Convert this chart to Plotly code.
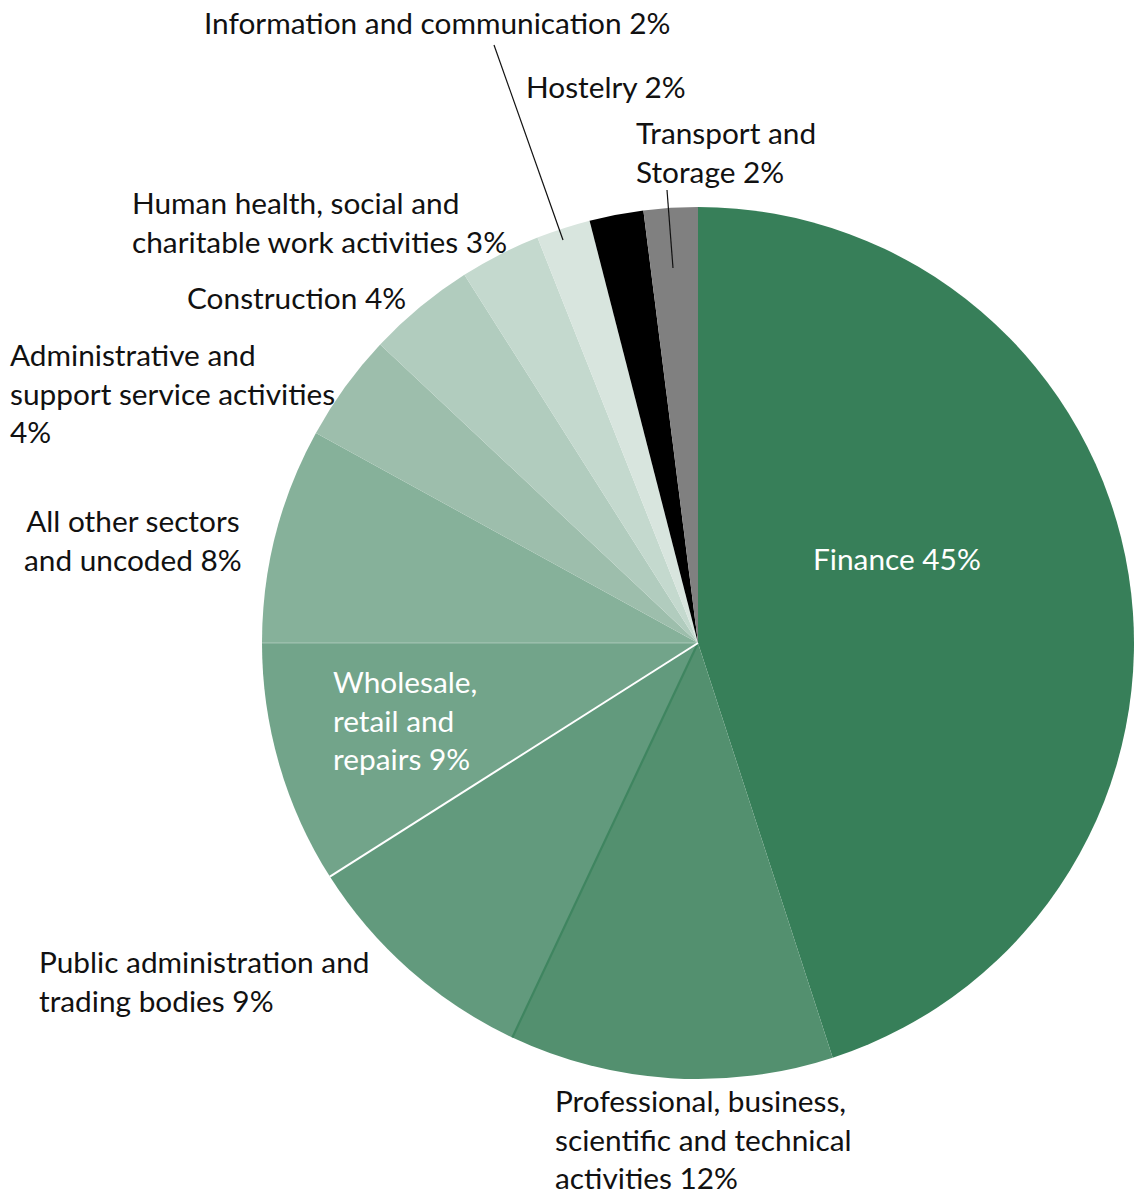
import math
import plotly.graph_objects as go

W, H = 1134, 1194

# Sector shares, clockwise from 12 o'clock
sectors = [
    "Finance",
    "Professional, business, scientific and technical activities",
    "Public administration and trading bodies",
    "Wholesale, retail and repairs",
    "All other sectors and uncoded",
    "Administrative and support service activities",
    "Construction",
    "Human health, social and charitable work activities",
    "Information and communication",
    "Hostelry",
    "Transport and Storage",
]
shares = [45, 12, 9, 9, 8, 4, 4, 3, 2, 2, 2]
colors = [
    "#377f59", "#53906f", "#629a7d", "#72a48a", "#86b19a", "#9dbeac",
    "#b1ccbe", "#c4d9ce", "#d8e5de", "#000000", "#808080",
]

# Label text, split into display lines
label_lines = {
    "Finance": ["Finance 45%"],
    "Professional, business, scientific and technical activities":
        ["Professional, business,", "scientific and technical", "activities 12%"],
    "Public administration and trading bodies":
        ["Public administration and", "trading bodies 9%"],
    "Wholesale, retail and repairs": ["Wholesale,", "retail and", "repairs 9%"],
    "All other sectors and uncoded": ["All other sectors", "and uncoded 8%"],
    "Administrative and support service activities":
        ["Administrative and", "support service activities", "4%"],
    "Construction": ["Construction 4%"],
    "Human health, social and charitable work activities":
        ["Human health, social and", "charitable work activities 3%"],
    "Information and communication": ["Information and communication 2%"],
    "Hostelry": ["Hostelry 2%"],
    "Transport and Storage": ["Transport and", "Storage 2%"],
}


def px(x):
    return x / W


def py(y):
    return 1 - y / H


# Pie placement (pixels): centre and radius
cx, cy, r = 698, 643, 436

fig = go.Figure(
    go.Pie(
        labels=sectors,
        values=shares,
        sort=False,
        direction="clockwise",
        rotation=0,
        textinfo="none",
        hoverinfo="label+percent",
        marker=dict(colors=colors, line=dict(width=0)),
        domain=dict(x=[px(cx - r), min(1.0, px(cx + r))],
                    y=[py(cy + r), py(cy - r)]),
        showlegend=False,
    )
)

# Slice-boundary rules: drawn along the edge that ends a given slice
total = sum(shares)


def edge_after(name):
    """Clockwise angle (radians from 12 o'clock) at the end of a slice."""
    idx = sectors.index(name)
    return 2 * math.pi * sum(shares[: idx + 1]) / total


edge_rules = [
    ("Professional, business, scientific and technical activities", "#3f8560", 2.2),
    ("Public administration and trading bodies", "#ffffff", 2.0),
    ("Wholesale, retail and repairs", "rgba(255,255,255,0.35)", 1.2),
]
for name, col, w in edge_rules:
    a = edge_after(name)
    fig.add_shape(type="line", xref="paper", yref="paper",
                  x0=px(cx), y0=py(cy),
                  x1=px(cx + r * math.sin(a)), y1=py(cy - r * math.cos(a)),
                  line=dict(color=col, width=w), layer="above")

FONT = "Lato"
FS = 29.8

# (sector, anchor x px, centre y px, xanchor, text colour)
label_pos = [
    ("Finance", 811, 558, "left", "white"),
    ("Professional, business, scientific and technical activities", 553, 1139, "left", "#111"),
    ("Public administration and trading bodies", 37, 981, "left", "#111"),
    ("Wholesale, retail and repairs", 331, 720, "left", "white"),
    ("All other sectors and uncoded", 133, 540, "center", "#111"),
    ("Administrative and support service activities", 8, 393, "left", "#111"),
    ("Construction", 185, 297.5, "left", "#111"),
    ("Human health, social and charitable work activities", 130, 222, "left", "#111"),
    ("Information and communication", 202, 23, "left", "#111"),
    ("Hostelry", 524, 86.5, "left", "#111"),
    ("Transport and Storage", 634, 152, "left", "#111"),
]

for name, x, y, xa, col in label_pos:
    fig.add_annotation(
        x=px(x), y=py(y), xref="paper", yref="paper",
        xanchor=xa, yanchor="middle", align=xa,
        text="<br>".join(label_lines[name]),
        showarrow=False,
        font=dict(family=FONT, size=FS, color=col),
    )

# Leader lines for the two thin slices near the top
leaders = [((494, 45), (563, 240)), ((667, 190), (673, 268))]
for (x0, y0), (x1, y1) in leaders:
    fig.add_shape(type="line", xref="paper", yref="paper",
                  x0=px(x0), y0=py(y0), x1=px(x1), y1=py(y1),
                  line=dict(color="#111", width=1.2))

fig.update_layout(
    width=W, height=H,
    margin=dict(l=0, r=0, t=0, b=0),
    paper_bgcolor="white",
    plot_bgcolor="white",
)

fig.write_html("out.html")
